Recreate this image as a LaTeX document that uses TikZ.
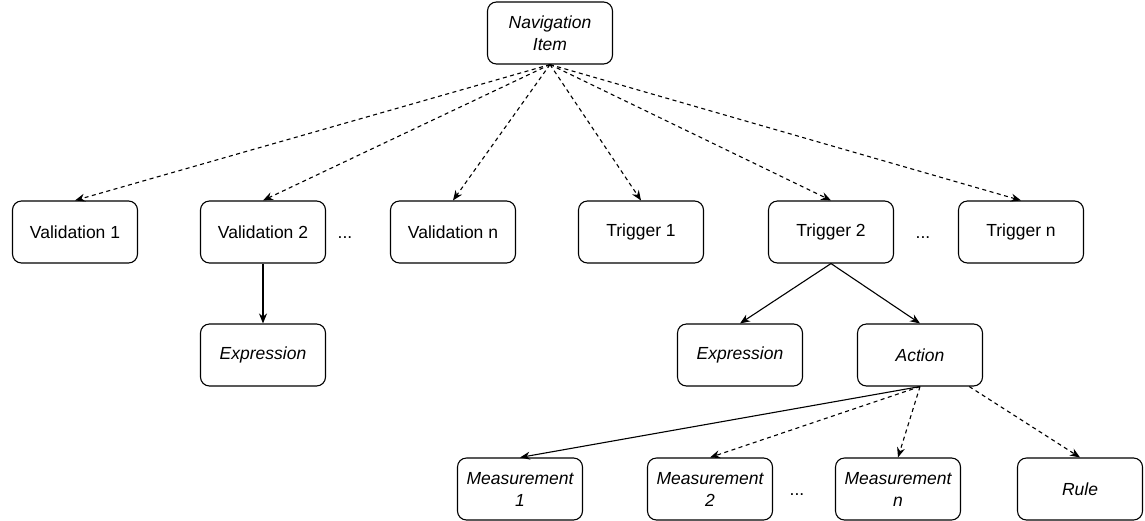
\documentclass[tikz,border=0pt]{standalone}
\usepackage{fontspec}
\setmainfont{Liberation Sans}
\usetikzlibrary{arrows.meta}
\begin{document}
\begin{tikzpicture}[x=1pt,y=-1pt,
  box/.style={draw, line width=1.1pt, rounded corners=9pt, minimum width=125pt,
    minimum height=62pt, inner sep=2pt, align=center,
    font=\fontsize{17.5}{22}\selectfont},
  ibox/.style={box, font=\fontsize{17.5}{22}\selectfont\itshape},
  link/.style={line width=1.1pt, -{Stealth[length=10pt,width=8pt]}},
  dlink/.style={link, dash pattern=on 4pt off 3.5pt},
  dots/.style={font=\fontsize{17.5}{22}\selectfont}]
\useasboundingbox (0,0) rectangle (1145,520);

% root
\node[ibox] (nav) at (550,33) {Navigation\\Item};

% validations and triggers
\node[box] (v1) at (75,232) {Validation 1};
\node[box] (v2) at (263,232) {Validation 2};
\node[box] (vn) at (453,232) {Validation n};
\node[box] (t1) at (641,232) {Trigger 1};
\node[box] (t2) at (831,232) {Trigger 2};
\node[box] (tn) at (1021,232) {Trigger n};
\node[dots] (d1) at (345,238) {...};
\node[dots] (d2) at (923,238) {...};

% third row
\node[ibox] (e1) at (263,355) {Expression};
\node[ibox] (e2) at (740,355) {Expression};
\node[ibox] (act) at (920,355) {Action};

% fourth row
\node[ibox] (m1) at (520,489) {Measurement\\1};
\node[ibox] (m2) at (710,489) {Measurement\\2};
\node[ibox] (mn) at (898,489) {Measurement\\n};
\node[ibox] (rule) at (1080,489) {Rule};
\node[dots] (d3) at (797,495) {...};

% connectors
\foreach \t in {v1,v2,vn,t1,t2,tn}
  \draw[dlink] (nav.south) -- (\t.north);
\draw[link] (v2) -- (e1);
\draw[link] (t2.south) -- (e2.north);
\draw[link] (t2.south) -- (act.north);
\draw[link] (act.south) -- (m1.north);
\draw[dlink] (act.south) -- (m2.north);
\draw[dlink] (act.south) -- (mn.north);
\draw[dlink] (act) -- (rule.north);
\end{tikzpicture}
\end{document}
